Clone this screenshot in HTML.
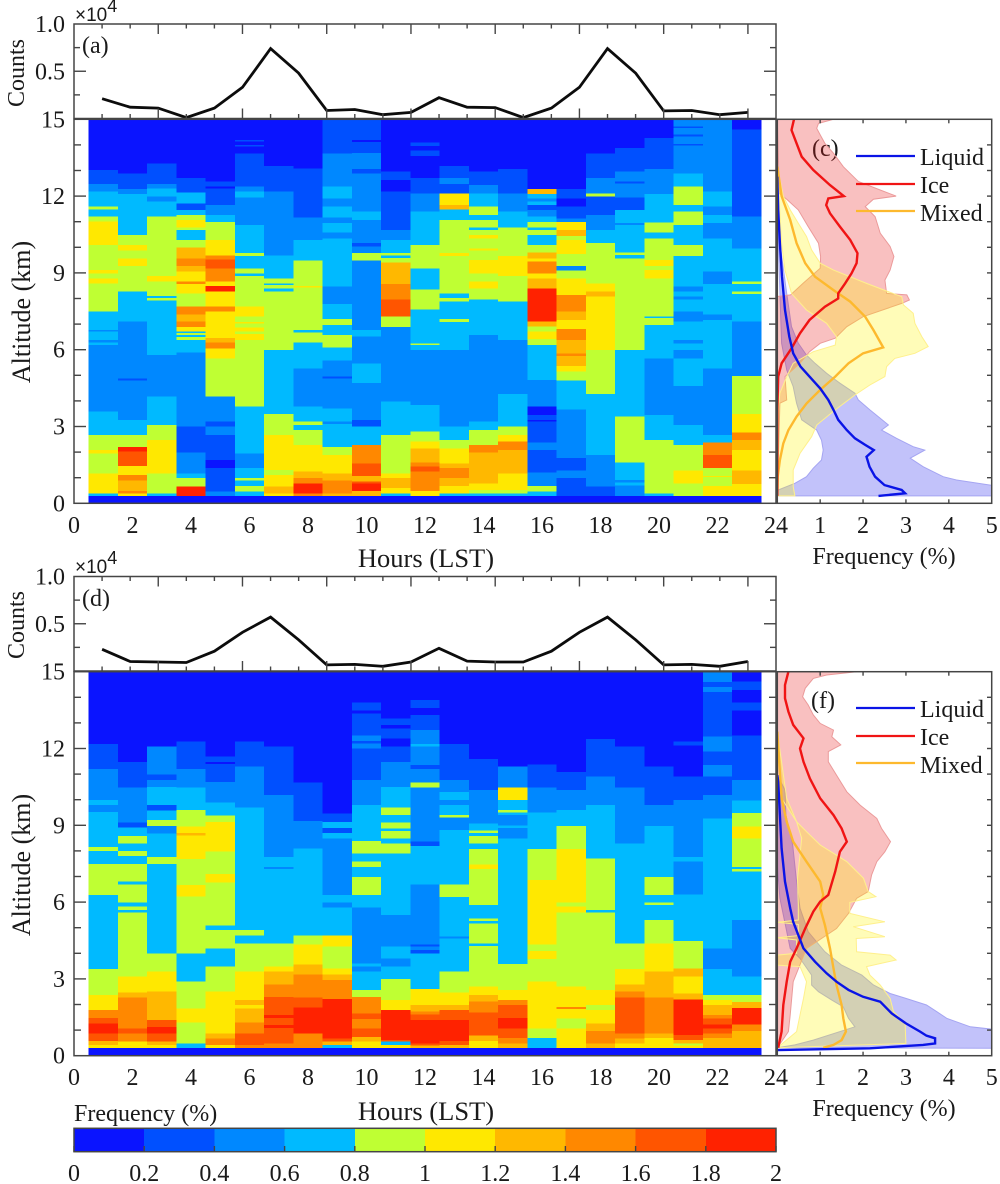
<!DOCTYPE html>
<html>
<head>
<meta charset="utf-8">
<title>Cloud phase frequency by hour and altitude</title>
<style>
html,body{margin:0;padding:0;background:#fff}
svg{display:block}
text{font-family:"Liberation Serif",serif;fill:#1a1a1a}
</style>
</head>
<body>
<svg id="chart" xmlns="http://www.w3.org/2000/svg" width="1000" height="1184" viewBox="0 0 1000 1184">
<defs>
<clipPath id="clipC"><rect x="777" y="119" width="215" height="385"/></clipPath>
<clipPath id="clipF"><rect x="777" y="672" width="215" height="384"/></clipPath>
</defs>
<rect width="1000" height="1184" fill="#fff"/>
<text font-size="24" text-anchor="middle" transform="translate(24,73) rotate(-90)">Counts</text>
<text font-size="24" text-anchor="middle" transform="translate(24,625) rotate(-90)">Counts</text>
<text font-size="26" text-anchor="middle" transform="translate(30,312) rotate(-90)">Altitude (km)</text>
<text font-size="26" text-anchor="middle" transform="translate(30,865) rotate(-90)">Altitude (km)</text>
<text font-size="26.5" text-anchor="middle" x="426" y="567">Hours (LST)</text>
<text font-size="26.5" text-anchor="middle" x="426" y="1120">Hours (LST)</text>
<text font-size="24" text-anchor="middle" x="884" y="564">Frequency (%)</text>
<text font-size="24" text-anchor="middle" x="884" y="1116">Frequency (%)</text>
<text font-size="24" x="74" y="1121">Frequency (%)</text>
<text font-size="24" x="82" y="53">(a)</text>
<text font-size="24" x="91" y="156">(b)</text>
<text font-size="24" x="812" y="156">(c)</text>
<text font-size="24" x="82" y="606">(d)</text>
<text font-size="24" x="91" y="708">(e)</text>
<text font-size="24" x="811" y="708">(f)</text>
<text x="75" y="21" style="font-family:'Liberation Sans',sans-serif" font-size="19">×10<tspan font-size="18" dy="-9">4</tspan></text>
<text x="75" y="573" style="font-family:'Liberation Sans',sans-serif" font-size="19">×10<tspan font-size="18" dy="-9">4</tspan></text>
<g id="layer-heat"></g>
<g id="layer-lines"></g>
<g id="layer-axes"></g>
<g>
<line x1="856" x2="915" y1="156" y2="156" stroke="#0a14e6" stroke-width="2.2"/>
<line x1="856" x2="915" y1="184" y2="184" stroke="#f01414" stroke-width="2.2"/>
<line x1="856" x2="915" y1="211" y2="211" stroke="#fdb92e" stroke-width="2.2"/>
<text font-size="24" x="920" y="165">Liquid</text>
<text font-size="24" x="920" y="193">Ice</text>
<text font-size="24" x="920" y="221">Mixed</text>
</g>
<g>
<line x1="856" x2="915" y1="708" y2="708" stroke="#0a14e6" stroke-width="2.2"/>
<line x1="856" x2="915" y1="736" y2="736" stroke="#f01414" stroke-width="2.2"/>
<line x1="856" x2="915" y1="763" y2="763" stroke="#fdb92e" stroke-width="2.2"/>
<text font-size="24" x="920" y="717">Liquid</text>
<text font-size="24" x="920" y="745">Ice</text>
<text font-size="24" x="920" y="773">Mixed</text>
</g>
</svg>
<script>
// ---------- axis ticks and categories ----------
const hourTicks = [0,2,4,6,8,10,12,14,16,18,20,22,24];
const altTicks = [0,3,6,9,12,15];
const countTicks = ["0.5","1.0"];
const freqTicks = [1,2,3,4,5];
const cbarTicks = ["0","0.2","0.4","0.6","0.8","1","1.2","1.4","1.6","1.8","2"];
const levelColors = ["#0a14ff","#0050ff","#0088ff","#00baff","#bfff33","#ffe800","#ffb800","#ff8800","#ff5500","#ff2200"];
const heatHours = [1,2,3,4,5,6,7,8,9,10,11,12,13,14,15,16,17,18,19,20,21,22,23];
const countHours = [1,2,3,4,5,6,7,8,9,10,11,12,13,14,15,16,17,18,19,20,21,22,23,24];

// ---------- counts (x 10^4) ----------
const countsA = [.21,.12,.11,.01,.11,.33,.74,.48,.085,.095,.04,.065,.22,.12,.115,.01,.11,.33,.74,.48,.08,.085,.04,.065];
const countsD = [.23,.10,.095,.09,.21,.41,.57,.33,.065,.07,.05,.095,.24,.105,.095,.095,.21,.41,.57,.33,.065,.07,.05,.10];

// ---------- heatmap columns: each segment is [lower altitude km, frequency %], listed from 15 km down ----------
const heatB = [
[[13.02,.1],[12.47,.3],[12.17,.5],[11.59,.7],[11.48,.9],[11.2,.7],[11,.9],[10.09,1.1],[9.11,.9],[8.98,1.1],[8.79,.9],[8.59,1.1],[8.46,.9],[7.49,.9],[6.77,.7],[6.71,.5],[6.38,.7],[6.28,.5],[6.18,.7],[3.58,.5],[2.67,.7],[2.08,.9],[1.95,1.1],[1.17,.9],[.39,1.1],[.29,.7],[0,.1]],
[[12.89,.1],[12.27,.3],[12.08,.5],[10.48,.7],[10.09,.9],[9.87,1.1],[9.57,.9],[9.27,1.1],[8.27,.9],[7.1,.7],[4.88,.5],[4.79,.3],[3.26,.5],[2.67,.7],[2.19,.9],[2.02,1.9],[1.46,1.7],[1.11,1.1],[.89,1.5],[.49,1.3],[.39,1.5],[.29,1.1],[0,.1]],
[[13.28,.1],[12.47,.3],[12.3,.5],[11.98,.7],[11.78,.5],[11.2,.7],[8.88,.9],[8.66,1.1],[8.1,.9],[8.01,.7],[7.92,.9],[5.79,.7],[4.17,.5],[3.06,.7],[2.47,.9],[1.17,1.1],[.39,.9],[.29,.7],[0,.1]],
[[12.7,.1],[12.14,.3],[11.72,.7],[11.46,.3],[11.26,.7],[11.07,.9],[10.78,1.1],[10.68,.9],[10.29,.7],[10,.9],[9.57,1.3],[9.27,1.5],[9.05,1.3],[8.66,1.1],[8.57,1.5],[8.2,1.1],[7.68,.9],[7.38,1.5],[7.1,1.3],[6.88,1.5],[6.71,1.1],[6.65,.7],[6.57,.9],[6.49,.7],[6.38,.9],[5.89,.7],[3,.5],[1.98,.3],[1.17,.5],[.98,.7],[.65,.9],[.29,1.9],[0,.1]],
[[12.57,.1],[12.37,.3],[12.3,.1],[11.65,.3],[11.26,.5],[10.98,.7],[10.29,.9],[10,1.1],[9.67,1.1],[9.53,1.5],[9.18,1.7],[8.66,1.5],[8.49,1.1],[8.27,1.9],[7.68,1.1],[7.49,1.5],[6.45,1.1],[6.28,1.3],[6.05,1.5],[5.66,1.1],[4.17,.9],[3.19,.5],[3,.3],[2.67,.5],[1.69,.3],[1.37,.1],[.46,.3],[.29,.5],[0,.1]],
[[14.2,.1],[14.13,.3],[13.99,.1],[13.93,.3],[13.67,.1],[12.37,.3],[12.17,.5],[11.95,.7],[10.87,.5],[9.77,.7],[9.66,.9],[9.18,.7],[8.98,.9],[8.88,.7],[7.68,.9],[7.29,1.1],[7.09,.9],[7.03,1.1],[6.87,.9],[6.71,1.1],[6.61,.9],[6.38,1.1],[3.78,.9],[1.95,.7],[1.37,.5],[.98,.7],[.89,.9],[.68,.7],[.46,.9],[.29,.7],[0,.1]],
[[13.18,.1],[12.17,.3],[9.67,.5],[8.79,.7],[8.59,.9],[8.53,.7],[8.4,.9],[8.27,.7],[5.99,.9],[3.49,.7],[2.67,.9],[1.3,1.1],[1.11,.9],[.65,1.1],[.39,1.3],[.29,1.1],[0,.1]],
[[13.08,.1],[11.17,.3],[10.29,.5],[9.48,.7],[8.49,.9],[8.42,1.1],[6.77,.9],[6.67,.7],[6.28,.9],[5.27,.7],[3.78,.5],[3.19,.7],[3.06,.9],[2.86,.7],[2.28,.9],[1.24,1.1],[.98,1.3],[.78,1.5],[.39,1.9],[.29,1.5],[0,.1]],
[[13.67,.3],[12.37,.5],[11.91,.7],[11.59,.5],[11.17,.7],[10.94,.5],[10.57,.7],[10.35,.5],[8.46,.7],[7.79,.5],[7.19,.7],[6.97,.9],[6.58,.7],[6.09,.9],[5.57,.7],[4.95,.5],[4.88,.3],[3.71,.5],[3.19,.7],[3.1,.5],[2.19,.7],[1.89,.9],[1.17,1.1],[.89,1.3],[.39,1.5],[.29,1.3],[0,.1]],
[[14.19,.3],[14.12,.1],[13.69,.3],[13.05,.5],[12.89,.3],[11.39,.5],[11.07,.7],[10.16,.5],[10.03,.3],[9.77,.5],[9.48,.9],[6.77,.5],[6.51,.7],[5.47,.5],[4.69,.7],[3.26,.5],[3,.3],[2.28,.7],[1.56,1.5],[1.07,1.7],[.85,1.3],[.78,1.7],[.49,1.9],[.29,1.3],[0,.1]],
[[12.96,.1],[12.63,.3],[12.17,.1],[10.68,.3],[10.29,.5],[9.77,.7],[9.68,.9],[9.58,.7],[9.4,.9],[8.57,1.3],[7.97,1.5],[7.29,1.7],[6.88,.9],[3.97,.5],[2.67,.7],[1.17,.9],[.98,1.1],[.59,1.3],[.39,1.1],[.29,.7],[0,.1]],
[[14.09,.1],[13.96,.3],[13.78,.1],[13.57,.3],[12.7,.1],[12.11,.3],[11.39,.5],[10.09,.7],[9.18,.9],[8.36,.7],[7.58,.9],[6.25,.7],[6.18,.9],[5.99,.7],[3.84,.5],[2.8,.7],[2.41,.9],[2.15,1.1],[1.6,1.3],[1.43,1.5],[1.24,1.7],[.49,1.5],[.29,1.1],[0,.1]],
[[13.18,.1],[12.7,.3],[12.47,.5],[12.11,.3],[11.65,1.1],[11.48,1.3],[11.07,.7],[9.77,.9],[9.66,1.1],[8.2,.9],[8.01,.7],[7.88,.9],[7.19,.7],[7.08,.9],[5.99,.7],[3,.5],[2.47,.7],[2.15,.9],[1.56,1.1],[1.37,1.3],[.98,1.5],[.68,1.3],[.39,1.1],[.29,.7],[0,.1]],
[[12.96,.1],[12.43,.3],[12.1,.5],[11.59,.7],[11.26,.9],[11.07,.7],[10.78,.9],[10.68,.7],[10.48,.9],[10.35,1.1],[9.96,.9],[9.87,1.1],[9.51,.9],[8.98,1.1],[8.66,.9],[8.4,1.1],[7.97,.9],[6.58,.7],[3.19,.5],[2.86,.7],[2.28,.9],[1.98,1.5],[.78,1.3],[.52,1.1],[.39,.9],[.29,.7],[0,.1]],
[[13.05,.1],[12.11,.3],[11.39,.5],[10.78,.7],[9.66,.9],[8.88,1.1],[7.88,.9],[6.38,.7],[4.27,.5],[3,.7],[2.67,.9],[2.41,1.1],[2.08,1.5],[1.17,1.3],[.52,1.1],[.39,.9],[.29,.7],[0,.1]],
[[12.27,.1],[12.08,1.3],[11.91,.7],[11.78,.5],[11.65,.7],[11.46,.3],[11.2,.5],[10.98,.7],[10.78,.9],[10.68,.7],[10.48,.9],[10.09,.7],[9.79,.9],[9.57,1.3],[9.44,1.1],[8.98,1.5],[8.79,1.1],[8.4,1.3],[7.1,1.9],[6.9,1.3],[6.71,.9],[6.41,1.1],[6.18,.9],[4.82,.7],[3.78,.5],[3.45,.1],[3.26,.3],[3.19,.1],[2.37,.3],[2.08,.5],[1.2,.3],[.68,.5],[.46,.9],[.29,.7],[0,.1]],
[[12.27,.1],[11.91,.3],[11.59,.1],[11.13,.3],[10.98,.5],[10.68,1.1],[10.44,1.3],[10.29,.9],[9.74,1.1],[9.27,.9],[9.09,.5],[8.79,.9],[8.14,1.1],[7.49,1.5],[7.16,1.3],[6.8,1.1],[6.38,1.5],[5.86,1.3],[5.76,1.5],[5.36,1.3],[5.14,1.1],[4.79,.9],[3.67,.7],[1.76,.5],[1.28,.3],[.98,.5],[.29,.3],[0,.1]],
[[13.67,.1],[12.7,.3],[12.11,.5],[11.98,.9],[11.26,.3],[10.68,.5],[10.16,.7],[8.59,.9],[8.27,1.1],[8.07,1.3],[5.99,1.1],[4.27,.9],[1.89,.7],[.65,.5],[.29,.3],[0,.1]],
[[13.87,.1],[12.96,.3],[12.57,.5],[12.5,.3],[11.95,.5],[11.46,.3],[10.94,.7],[10.87,.5],[9.79,.7],[9.7,.9],[9.57,.7],[5.99,.9],[3.39,.7],[1.59,.9],[.91,.7],[.81,.5],[.7,.7],[.29,.5],[0,.1]],
[[14.27,.1],[13.05,.3],[12.08,.5],[10.96,.7],[10.57,.9],[10.35,.7],[9.51,.9],[9.27,1.1],[9.11,.9],[8.79,1.1],[7.29,.9],[7.23,.7],[6.97,.9],[5.66,.7],[3.45,.5],[2.47,.7],[.39,.9],[.29,.7],[0,.1]],
[[14.72,.5],[14.66,.3],[14.4,.5],[14.33,.3],[14.03,.5],[13.97,.3],[12.89,.5],[12.37,.7],[11.65,.9],[11.39,.7],[10.87,.9],[10.09,.7],[9.66,.9],[8.46,.7],[8.27,.5],[8.07,.7],[7.97,.5],[7.49,.7],[7.1,.5],[6.38,.7],[6.25,.5],[5.99,.7],[5.66,.5],[4.58,.7],[3.06,.5],[2.28,.7],[1.28,.9],[.78,1.1],[.29,.9],[0,.1]],
[[12.17,.5],[11.59,.7],[11.26,.5],[10.94,.7],[10.35,.5],[9.05,.7],[8.57,.5],[7.38,.7],[7.16,.5],[5.27,.7],[2.67,.5],[2.37,.7],[1.89,1.5],[1.37,1.7],[1.07,.9],[1.02,1.1],[.68,.9],[.29,1.1],[0,.1]],
[[14.6,.1],[11.2,.3],[9.96,.5],[8.66,.7],[8.57,.9],[8.27,.7],[8.17,.9],[7.1,.7],[4.97,.5],[3.49,.9],[2.76,1.1],[2.47,1.5],[2.08,1.3],[1.28,1.1],[.76,1.3],[.29,1.1],[0,.1]]
];
const heatE = [
[[12.17,.1],[11.2,.3],[9.99,.5],[9.79,.7],[9.51,.5],[8.16,.7],[8,.9],[7.49,.7],[6.28,.9],[3.39,.7],[2.37,.9],[1.78,1.1],[1.48,1.5],[1.26,1.7],[.87,1.9],[.57,1.7],[.42,1.3],[.31,1.1],[0,.1]],
[[11.48,.1],[10.47,.3],[9.11,.5],[8.91,.3],[8.59,.7],[8.29,.9],[8,.7],[7.81,.9],[7.49,.7],[6.8,.9],[6.69,.7],[5.99,.9],[5.82,.7],[5.69,.9],[5.6,.7],[3.09,.9],[2.47,1.1],[2.28,1.3],[1.07,1.5],[.87,1.7],[.55,1.5],[.31,1.1],[0,.1]],
[[12.07,.1],[10.99,.5],[10.77,.3],[10.5,.5],[9.79,.7],[9.58,.3],[9.2,.7],[8.98,.9],[8.68,.5],[7.77,.7],[7.49,.9],[4,.7],[3.28,.9],[2.5,1.1],[1.39,1.3],[1.13,1.7],[.87,1.9],[.55,1.7],[.42,1.3],[.31,1.1],[0,.1]],
[[12.27,.1],[11.2,.3],[10.47,.5],[9.6,.7],[8.95,.9],[8.69,1.1],[8.6,1.3],[7.68,1.1],[6.67,.9],[6.21,1.1],[4,.9],[2.89,.7],[1.85,.9],[1.3,1.1],[.48,.9],[.31,.7],[0,.1]],
[[11.68,.1],[11.48,.3],[11.4,.1],[10.7,.3],[9.9,.5],[9.38,.7],[9.12,.9],[7.97,1.1],[7.09,.9],[6.77,1.1],[5.08,.9],[4.91,.7],[4.19,.9],[3.48,.7],[2.5,.9],[.87,1.1],[.68,1.3],[.42,1.5],[.31,1.1],[0,.1]],
[[12.27,.1],[11.29,.3],[9.7,.5],[4.91,.7],[4.69,.9],[4.39,.7],[3.28,.9],[2.17,1.1],[1.98,1.3],[1.85,1.1],[1.3,1.3],[.87,1.5],[.42,1.7],[.31,1.5],[0,.1]],
[[12.07,.1],[10.18,.3],[7.77,.5],[7.38,.7],[7.29,.5],[4.39,.7],[3.48,.9],[3.28,1.1],[2.79,1.3],[2.3,1.5],[1.59,1.7],[1.48,1.9],[1.2,1.7],[1.09,1.9],[.48,1.7],[.31,1.5],[0,.1]],
[[10.68,.1],[9.17,.3],[8.1,.5],[4.69,.7],[4.35,.9],[3.57,1.1],[3.18,1.3],[2.27,1.5],[1.88,1.7],[.87,1.9],[.31,1.5],[0,.1]],
[[9.47,.1],[9.12,.3],[8.89,.7],[8.69,.3],[8.49,.7],[6.28,.5],[5.99,.7],[5.78,.5],[4.69,.7],[4.26,1.1],[3.41,.9],[3.18,1.1],[2.96,1.3],[2.21,1.5],[.68,1.9],[.55,1.7],[.42,1.3],[.31,.7],[0,.1]],
[[13.8,.1],[13.49,.3],[13.37,.1],[12.5,.3],[12.29,.5],[12.2,.3],[12,.5],[10.77,.3],[9.79,.5],[8.39,.7],[7.9,.9],[7.58,.7],[7.38,.9],[6.99,.7],[6.28,.9],[5.78,.7],[3.61,.5],[3.48,.7],[3.28,.5],[2.57,.7],[2.3,.9],[1.65,1.5],[1.43,1.7],[1.07,1.5],[.74,1.7],[.55,1.3],[.31,1.1],[0,.1]],
[[13.18,.1],[12.92,.3],[12.79,.1],[12.4,.3],[12.07,.1],[11.48,.3],[10.5,.5],[9.69,.7],[9.4,.9],[9.11,.7],[8.87,.9],[8.77,.7],[8.49,.9],[8.29,.7],[7.9,.9],[5.49,.7],[4.26,.5],[3.8,.7],[3.48,.5],[3,.7],[2.17,.9],[1.78,1.1],[.61,1.9],[.55,1.7],[.42,.7],[.31,1.1],[0,.1]],
[[13.89,.1],[13.59,.3],[13.31,.1],[12.73,.3],[12.17,.5],[12.07,.7],[11.35,.5],[11.2,.3],[10.68,.5],[10.48,.9],[8.36,.5],[8.2,.3],[6.69,.7],[4.35,.5],[4.26,.3],[4.13,.5],[4,.3],[2.6,.7],[1.98,1.1],[1.72,1.3],[1.61,1.5],[1.39,1.7],[.48,1.9],[.39,1.7],[.31,1.3],[0,.1]],
[[12.17,.1],[10.77,.3],[10.31,.5],[9.99,.7],[9.79,.5],[9.4,.7],[9.3,.9],[8.81,.5],[6.69,.7],[6.2,.9],[4.65,.7],[4.58,.5],[3.28,.7],[2.47,.9],[1.98,1.1],[1.78,1.3],[1.39,1.7],[.57,1.9],[.42,1.7],[.31,1.3],[0,.1]],
[[11.59,.1],[10.38,.3],[9.08,.5],[8.79,.7],[8.69,.9],[8.59,.7],[8.29,.9],[8.07,.7],[7.47,.9],[7.29,1.1],[5.89,.9],[5.36,.7],[5.26,.9],[5.17,.7],[4.39,.9],[4.28,.7],[2.7,.9],[2.37,1.1],[2.11,1.3],[1.69,1.5],[.78,1.7],[.57,1.3],[.31,1.1],[0,.1]],
[[11.29,.1],[10.47,.5],[9.99,1.1],[9.6,.7],[9.5,.9],[9.4,.7],[9,.5],[8.9,.7],[8.49,.5],[3.58,.7],[2.57,.9],[2.17,1.1],[1.98,1.5],[1.48,1.7],[1.07,1.9],[.7,1.7],[.48,1.5],[.31,1.3],[0,.1]],
[[11.38,.1],[10.47,.3],[9.5,.5],[8.07,.7],[6.86,.9],[4.35,1.1],[4.09,.9],[3.78,1.1],[2.89,.9],[1.07,1.1],[.7,.9],[.31,.7],[0,.1]],
[[11.09,.1],[10.38,.3],[9.6,.5],[8.98,.7],[8.07,.9],[5.99,1.1],[5.82,.9],[5.6,1.1],[2.7,.9],[1.91,1.1],[1.82,1.5],[1.46,1.1],[1.07,.9],[.31,1.1],[0,.1]],
[[12.37,.1],[10.9,.3],[9.79,.5],[7.71,.7],[5.69,.9],[5.6,.7],[2.57,.9],[1.98,1.1],[1.78,.9],[1.26,1.1],[.96,1.3],[.48,1.5],[.31,1.3],[0,.1]],
[[12.07,.1],[10.47,.3],[8.29,.5],[4.39,.7],[3.39,.9],[2.79,1.1],[2.5,1.3],[2.27,1.5],[.87,1.7],[.68,1.5],[.48,1.3],[.31,1.1],[0,.1]],
[[11.29,.1],[9.79,.3],[8.98,.5],[6.99,.7],[6.28,.9],[5.99,.7],[5.89,.9],[5.3,.7],[4.39,.9],[3.28,1.1],[2.27,1.3],[.87,1.5],[.7,1.3],[.31,1.1],[0,.1]],
[[12.27,.1],[12.11,.3],[10.9,.1],[9.99,.3],[7.77,.5],[7.58,.7],[6.3,.5],[4.48,.7],[3.41,.9],[3.09,1.3],[2.43,1.1],[2.2,1.3],[.81,1.9],[.61,1.7],[.48,1.3],[.39,.9],[.31,1.1],[0,.1]],
[[14.6,.5],[14.4,.3],[14.2,.5],[12.47,.3],[11.89,.5],[11.35,.3],[10.9,.5],[10.18,.3],[9.27,.5],[4.19,.7],[3.39,.5],[2.37,.7],[2.17,.9],[1.98,1.1],[1.59,1.3],[1.46,1.5],[1.22,1.7],[1.07,1.9],[.87,1.7],[.7,1.5],[.31,1.3],[0,.1]],
[[14.61,.1],[14.28,.3],[13.8,.1],[13.49,.3],[12.5,.1],[10.77,.3],[9.96,.5],[9.49,.7],[8.95,.9],[8.49,1.1],[7.38,.9],[7.29,.7],[7.19,.9],[5.3,.7],[3.09,.5],[2.37,.7],[2.09,.9],[1.87,1.3],[1.22,1.9],[.96,1.5],[.31,1.3],[0,.1]]
];

// ---------- profile means: [altitude km, frequency %] ----------
const liquidC = [[.29,2.36],[.39,2.98],[.52,2.9],[.71,2.5],[1.04,2.28],[1.43,2.15],[1.82,2.08],[2.08,2.25],[2.28,2.05],[2.54,1.81],[2.86,1.62],[3.26,1.42],[3.65,1.31],[4.04,1.19],[4.49,1],[4.95,.75],[5.34,.54],[5.86,.37],[6.51,.28],[7.55,.18],[8.85,.11],[10.16,.06],[11.46,.02],[12.76,0]];
const iceC = [[15,.39],[14.58,.33],[14.06,.45],[13.54,.57],[13.02,.84],[12.43,1.23],[12,1.55],[11.91,1.19],[11.65,1.14],[11.33,1.23],[10.81,1.46],[10.29,1.7],[9.77,1.87],[9.38,1.85],[8.98,1.73],[8.59,1.58],[8.2,1.42],[8,1.42],[7.68,1.11],[7.16,.75],[6.64,.53],[6.05,.33],[5.47,.1],[4.95,.02],[3.65,0],[.29,0]];
const mixedC = [[13.15,0],[12,.1],[11.07,.3],[10.16,.45],[9.38,.65],[8.85,.88],[8.33,1.31],[7.88,1.7],[7.29,2.05],[6.77,2.24],[6.09,2.47],[5.86,2],[5.47,1.66],[4.95,1.35],[4.43,1],[3.9,.68],[3.39,.45],[2.86,.26],[2.34,.14],[1.69,.06],[1.04,.01],[.29,0]];
const liquidF = [[.22,0],[.29,2.16],[.42,3.4],[.48,3.68],[.68,3.68],[.78,3.48],[.94,3.33],[1.26,3],[1.65,2.67],[2.11,2.4],[2.3,2],[2.57,1.66],[2.89,1.38],[3.22,1.15],[3.67,.88],[4.19,.61],[4.71,.49],[5.23,.37],[5.76,.3],[6.8,.18],[8.1,.1],[9.4,.06],[10.7,.02],[10.96,0]];
const iceF = [[15,.26],[14.48,.18],[13.96,.18],[13.44,.26],[12.92,.37],[12.4,.61],[12,.53],[11.48,.61],[10.83,.76],[10.05,1],[9.4,1.31],[8.88,1.5],[8.36,1.62],[7.97,1.46],[7.19,1.35],[6.28,1.19],[6.02,1],[5.63,.84],[4.97,.65],[4.19,.45],[3.67,.3],[2.89,.22],[1.98,.14],[.94,.1],[.31,.02]];
const mixedF = [[12.66,0],[11.35,.05],[10.05,.1],[9.14,.22],[8.36,.37],[7.58,.68],[6.8,1],[6.28,1.07],[5.76,1],[5.1,1.11],[4.19,1.23],[3.41,1.31],[2.76,1.38],[1.98,1.5],[1.46,1.54],[.94,1.6],[.61,1.5],[.42,1.31],[.31,1.07]];

// ---------- profile spread bounds: [altitude km, frequency %] ----------
const iceUpperC = [[15,1.31],[14.84,.96],[14.65,.92],[14.39,1],[14.06,1.11],[13.67,1.31],[13.15,1.54],[12.57,1.89],[12.24,2.4],[12,2.77],[11.88,2.24],[11.59,2.05],[11.2,2.28],[10.55,2.4],[10.03,2.63],[9.64,2.72],[9.11,2.63],[8.72,2.51],[8.2,2.55],[8.14,3.02],[7.94,3.08],[7.81,2.9],[7.29,2],[6.9,1.62],[6.45,1.35],[6.25,1],[5.92,.75],[5.47,.53],[4.95,.18],[4.04,.22],[3.91,.06],[.29,0]];
const iceLowerC = [[15,0],[12.1,.05],[11.88,.22],[11.46,.49],[10.81,.72],[10.16,.96],[9.64,1.01],[9.18,1],[8.59,.6],[8.14,.31],[8.08,0],[.29,0]];
const mixedUpperC = [[13.15,0],[12,.14],[11.46,.3],[10.94,.49],[10.42,.68],[9.9,.8],[9.38,1],[9.11,1.31],[8.59,2.08],[8.07,2.9],[7.75,2.94],[7.42,3.17],[7.03,3.21],[6.51,3.37],[6.12,3.52],[5.86,3.21],[5.66,2.74],[5.34,2.55],[4.95,2.51],[4.62,2.16],[4.23,1.81],[3.65,1.35],[3.06,.92],[2.6,.8],[1.95,.53],[1.3,.37],[.65,.37],[.29,.41]];
const mixedLowerC = [[13.15,0],[10.16,.1],[9.11,.18],[8.2,.33],[7.55,.68],[7.03,1.15],[6.51,1.38],[6.18,1.35],[5.92,.84],[5.47,.37],[4.95,.22],[4.3,.06],[3.65,.02],[.29,0]];
const liquidUpperC = [[.29,5.2],[.65,5.2],[.91,4.18],[1.04,3.87],[1.43,3.4],[1.76,3.1],[2.08,3.44],[2.21,3.17],[2.54,2.78],[2.86,2.43],[3.06,2.59],[3.32,2.4],[3.65,2.16],[4.04,1.89],[4.3,1.81],[4.69,1.46],[5.08,1.15],[5.47,.88],[5.79,.68],[6.25,.49],[6.9,.33],[8.2,.22],[10.16,.06],[11.46,0]];
const liquidLowerC = [[11.46,0],[8.2,.06],[6.25,.1],[5.21,.22],[4.56,.37],[3.91,.45],[3.26,.57],[2.86,.92],[2.47,1.03],[2.08,1.07],[1.69,1.03],[1.37,.84],[1.04,.68],[.78,.41],[.52,.02],[.29,0]];
const iceUpperF = [[15,1.85],[14.87,1.15],[14.74,.84],[14.35,.65],[14.02,.59],[13.7,.72],[13.31,.84],[12.98,1],[12.72,1.31],[12.46,1.27],[12.14,1.48],[11.88,1.19],[11.48,1.19],[10.96,1.38],[10.31,1.62],[9.79,1.93],[9.27,2.32],[8.88,2.43],[8.36,2.64],[7.97,2.51],[7.58,2.32],[7.06,2.2],[6.41,2.12],[6.15,1.85],[5.56,1.66],[4.97,1.38],[4.19,.68],[2.89,.37],[1.59,.3],[.94,.26],[.31,0]];
const iceLowerF = [[15,0],[.31,0]];
const mixedUpperF = [[12.66,0],[10.05,.22],[9.14,.45],[8.75,.68],[8.23,1],[7.58,1.62],[6.93,2.01],[6.41,2.12],[6.21,2.3],[5.99,1.69],[5.56,1.69],[5.23,2.51],[5.04,1.77],[4.65,2.51],[4.58,1.84],[4.06,1.85],[3.93,2.63],[3.74,2.77],[3.48,2.08],[3.15,2.16],[2.76,2.4],[2.24,2.63],[1.72,2.71],[1.26,2.98],[.48,3],[.31,0]];
const mixedLowerF = [[12.66,0],[10.05,.1],[9.14,.45],[8.49,.57],[7.84,.53],[6.93,.47],[5.89,.49],[5.3,.49],[5.21,0],[5.13,.49],[4.69,.49],[4.61,0],[4.52,.45],[4,.45],[3.93,0],[3.54,0],[3.48,.53],[2.89,.68],[2.24,.61],[1.59,.53],[.94,.45],[.31,0]];
const liquidUpperF = [[.29,5.2],[1,5.2],[1.13,4.5],[1.46,3.95],[1.72,3.72],[1.98,3.48],[2.24,3],[2.43,2.63],[2.76,2.24],[3.15,1.97],[3.54,1.5],[4.06,1.11],[4.84,.72],[5.76,.53],[6.93,.44],[8.23,.36],[9.4,.2],[10.38,.18],[10.96,0]];
const liquidLowerF = [[10.96,0],[7.45,0],[6.15,.06],[4.19,.3],[3.8,.53],[3.15,.8],[2.76,.8],[2.5,.96],[2.17,1.27],[1.91,1.54],[1.46,1.66],[1.13,1.81],[.61,.84],[.42,.41],[.31,0]];

// ---------- scales ----------
const SVGNS = "http://www.w3.org/2000/svg";
const heatLayer = document.getElementById("layer-heat");
const lineLayer = document.getElementById("layer-lines");
const axisLayer = document.getElementById("layer-axes");
const FRAME = "#454545";
function xHour(h){ return 74 + h * 702 / 24; }
function xCount(h){ return 74 + h * 702 / 25; }
function xFreq(v){ return 777.3 + v * 42.88; }
function altScale(zero, top){ return function(km){ return zero - km * (zero - top) / 15; }; }
function colorFor(v){ return levelColors[Math.max(0, Math.min(9, Math.floor(v / 0.2)))]; }
function el(parent, tag, attrs, txt){
  const node = document.createElementNS(SVGNS, tag);
  for (const k in attrs) node.setAttribute(k, attrs[k]);
  if (txt !== undefined) node.textContent = txt;
  parent.appendChild(node);
  return node;
}
function label(x, y, anchor, txt, name){
  const t = el(axisLayer, "text", {x:x, y:y, "text-anchor":anchor, "font-size":24}, txt);
  
  
}
function tick(x1, y1, x2, y2, name){
  const t = el(axisLayer, "line", {x1:x1, y1:y1, x2:x2, y2:y2, stroke:FRAME, "stroke-width":1.4});
  
  
}
function frame(x, y, w, h, name){
  const r = el(axisLayer, "rect", {x:x, y:y, width:w, height:h, fill:"none", stroke:FRAME, "stroke-width":1.5});
  
  
}
function drawHeat(cols, yOf, panel){
  cols.forEach(function(col, i){
    const h = heatHours[i];
    let upper = 15;
    col.forEach(function(seg){
      const r = el(heatLayer, "rect", {
        x: xHour(h - 0.5), width: xHour(h + 0.5) - xHour(h - 0.5),
        y: yOf(upper), height: yOf(seg[0]) - yOf(upper),
        fill: colorFor(seg[1]), "shape-rendering": "crispEdges"
      });
      
      
      upper = seg[0];
    });
  });
}
function drawCounts(values, top, bottom, panel){
  const yOf = function(v){ return bottom - v * (bottom - top); };
  const pts = values.map(function(v, i){ return xCount(countHours[i]).toFixed(1) + "," + yOf(v).toFixed(1); }).join(" ");
  const p = el(lineLayer, "polyline", {points:pts, fill:"none", stroke:"#0c0c0c", "stroke-width":2.8, "stroke-linejoin":"miter"});
  
  
  frame(74, top, 702, bottom - top, 'counts-frame-' + panel);
  for (let h = 1; h < 25; h++){
    const len = h % 3 === 0 ? 10 : 4.5;
    tick(xCount(h), top, xCount(h), top + len, 'counts-top-tick-' + panel);
    tick(xCount(h), bottom, xCount(h), bottom - len, 'counts-bottom-tick-' + panel);
  }
  [0.25, 0.5, 0.75].forEach(function(v){
    const len = v === 0.5 ? 12 : 6;
    tick(74, yOf(v), 74 + len, yOf(v), 'counts-y-tick-' + panel);
    tick(776, yOf(v), 776 - len, yOf(v), 'counts-y-tick-right-' + panel);
  });
  countTicks.forEach(function(s){
    label(65, yOf(parseFloat(s)) + 8, "end", s, 'counts-tick-label-' + panel);
  });
}
function descending(points){
  return points[0][0] >= points[points.length - 1][0] ? points.slice() : points.slice().reverse();
}
function drawBand(upper, lower, yOf, fill, edge, clip, name){
  const outline = descending(upper).concat(descending(lower).reverse());
  const pts = outline.map(function(p){ return xFreq(p[1]).toFixed(1) + "," + yOf(p[0]).toFixed(1); }).join(" ");
  const b = el(lineLayer, "polygon", {points:pts, fill:fill, stroke:edge, "stroke-width":1, "clip-path":"url(#" + clip + ")"});
  
  
}
function drawProfile(series, yOf, color, clip, name){
  const pts = series.map(function(p){ return xFreq(p[1]).toFixed(1) + "," + yOf(p[0]).toFixed(1); }).join(" ");
  const l = el(lineLayer, "polyline", {points:pts, fill:"none", stroke:color, "stroke-width":2.4, "clip-path":"url(#" + clip + ")"});
  
  
}
function drawMainAxes(yOf, labelBase, panel){
  const top = yOf(15), bottom = yOf(0);
  frame(74, top, 702, bottom - top, 'heatmap-frame-' + panel);
  for (let km = 1; km < 15; km++){
    const len = km % 3 === 0 ? 12 : 7;
    tick(74, yOf(km), 74 + len, yOf(km), 'altitude-tick-' + panel);
    tick(776, yOf(km), 776 - len, yOf(km), 'altitude-tick-right-' + panel);
  }
  altTicks.forEach(function(km){
    label(65, yOf(km) + 8, "end", String(km), 'altitude-tick-label-' + panel);
  });
  hourTicks.forEach(function(h){
    label(xHour(h), labelBase, "middle", String(h), 'hour-tick-label-' + panel);
  });
}
function drawSideAxes(yOf, labelBase, panel){
  const top = yOf(15), bottom = yOf(0);
  frame(777.3, top, 214.4, bottom - top, 'profile-frame-' + panel);
  for (let km = 1; km < 15; km++){
    tick(991.7, yOf(km), 987, yOf(km), 'profile-y-tick-' + panel);
  }
  freqTicks.forEach(function(v){
    if (v < 5) {
      tick(xFreq(v), top, xFreq(v), top + 4, 'profile-x-tick-top-' + panel);
      tick(xFreq(v), bottom, xFreq(v), bottom - 4, 'profile-x-tick-bottom-' + panel);
    }
    label(xFreq(v), labelBase, "middle", String(v), 'frequency-tick-label-' + panel);
  });
}

// ---------- draw panels ----------
const yB = altScale(503.3, 119.3);
const yE = altScale(1055.7, 671.7);
drawHeat(heatB, yB, 'b');
drawHeat(heatE, yE, 'e');
drawBand(liquidUpperC, liquidLowerC, yB, "rgba(20,20,235,0.26)", "#a5a5f2", "clipC", "liquid-spread-c");
drawBand(iceUpperC, iceLowerC, yB, "rgba(235,30,30,0.28)", "#eb9a9a", "clipC", "ice-spread-c");
drawBand(mixedUpperC, mixedLowerC, yB, "rgba(255,245,0,0.28)", "#fff08c", "clipC", "mixed-spread-c");
drawProfile(mixedC, yB, "#fdb92e", "clipC", "mixed-line-c");
drawProfile(iceC, yB, "#f01414", "clipC", "ice-line-c");
drawProfile(liquidC, yB, "#0a14e6", "clipC", "liquid-line-c");
drawBand(liquidUpperF, liquidLowerF, yE, "rgba(20,20,235,0.26)", "#a5a5f2", "clipF", "liquid-spread-f");
drawBand(iceUpperF, iceLowerF, yE, "rgba(235,30,30,0.28)", "#eb9a9a", "clipF", "ice-spread-f");
drawBand(mixedUpperF, mixedLowerF, yE, "rgba(255,245,0,0.28)", "#fff08c", "clipF", "mixed-spread-f");
drawProfile(mixedF, yE, "#fdb92e", "clipF", "mixed-line-f");
drawProfile(iceF, yE, "#f01414", "clipF", "ice-line-f");
drawProfile(liquidF, yE, "#0a14e6", "clipF", "liquid-line-f");
drawCounts(countsA, 24, 118.5, 'a');
drawCounts(countsD, 576.5, 671, 'd');
drawMainAxes(yB, 533, 'b');
drawMainAxes(yE, 1085, 'e');
drawSideAxes(yB, 533, 'c');
drawSideAxes(yE, 1085, 'f');

// ---------- colorbar ----------
function xBar(v){ return 74 + v * 351; }
levelColors.forEach(function(c, i){
  const low = parseFloat(cbarTicks[i]);
  const high = parseFloat(cbarTicks[i + 1]);
  const seg = el(heatLayer, "rect", {x:xBar(low), y:1128.3, width:xBar(high) - xBar(low), height:23.4, fill:c, "shape-rendering":"crispEdges"});
  
  
});
frame(74, 1128.3, 702, 23.4, 'colorbar-frame');
cbarTicks.forEach(function(s){
  const v = parseFloat(s);
  tick(xBar(v), 1151.7, xBar(v), 1146, 'colorbar-tick');
  label(xBar(v), 1181, "middle", s, 'colorbar-tick-label');
});
</script>
</body>
</html>
